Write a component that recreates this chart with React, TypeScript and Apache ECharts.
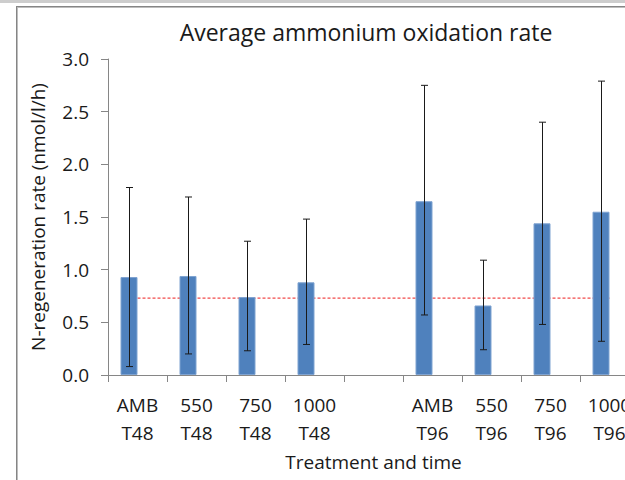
import React, { useEffect, useRef } from "react";
import * as echarts from "echarts";

// categories along the x axis (the 5th slot is an empty spacer)
const categories = [
  "AMB\nT48",
  "550\nT48",
  "750\nT48",
  "1000\nT48",
  "",
  "AMB\nT96",
  "550\nT96",
  "750\nT96",
  "1000\nT96",
];

// mean rates and the ends of the error bars (nmol/l/h)
const meanRates = [0.93, 0.94, 0.74, 0.88, null, 1.65, 0.66, 1.44, 1.55];
const errLow = [0.08, 0.2, 0.23, 0.29, null, 0.57, 0.24, 0.48, 0.32];
const errHigh = [1.78, 1.69, 1.27, 1.48, null, 2.75, 1.09, 2.4, 2.79];

// dotted red reference level
const refRate = 0.73;

const yMin = 0;
const yMax = 3;
const yStep = 0.5;

const BAR_W = 17;
const FONT = "'Open Sans', sans-serif";
const TEXT = "#1a1a1a";
const AXIS = "#868686";

const App: React.FC = () => {
  const chartRef = useRef<HTMLDivElement>(null);

  useEffect(() => {
    if (!chartRef.current) return;
    const chart = echarts.init(chartRef.current, undefined, { renderer: "svg" });

    const errData = errHigh
      .map((h, i) => (h == null ? null : [i, errLow[i], h]))
      .filter((d) => d !== null);

    const option: echarts.EChartsOption = {
      animation: false,
      textStyle: { fontFamily: FONT, color: TEXT },
      title: {
        text: "Average ammonium oxidation rate",
        left: 361,
        top: 15,
        textAlign: "center",
        textStyle: { fontFamily: FONT, fontSize: 23, fontWeight: "normal", color: TEXT },
      },
      grid: { left: 108, top: 59, width: 531, height: 316 },
      xAxis: {
        type: "category",
        data: categories,
        name: "Treatment and time",
        nameLocation: "middle",
        nameGap: 77,
        nameTextStyle: { fontSize: 19, color: TEXT, fontFamily: FONT },
        axisLine: { lineStyle: { color: AXIS, width: 1 } },
        axisTick: { show: true, length: 7, lineStyle: { color: AXIS } },
        axisLabel: {
          interval: 0,
          fontSize: 19,
          lineHeight: 28,
          margin: 16,
          color: TEXT,
          fontFamily: FONT,
        },
        splitLine: { show: false },
      },
      yAxis: {
        type: "value",
        min: yMin,
        max: yMax,
        interval: yStep,
        name: "N-regeneration rate (nmol/l/h)",
        nameLocation: "middle",
        nameGap: 61,
        nameTextStyle: { fontSize: 19, color: TEXT, fontFamily: FONT },
        axisLine: { show: true, lineStyle: { color: AXIS, width: 1 } },
        axisTick: { show: true, length: 7, lineStyle: { color: AXIS } },
        axisLabel: {
          fontSize: 19,
          margin: 19,
          color: TEXT,
          fontFamily: FONT,
          formatter: (v: number) => v.toFixed(1),
        },
        splitLine: { show: false },
      },
      series: [
        {
          type: "line",
          z: 1,
          data: categories.map(() => refRate),
          symbol: "none",
          lineStyle: { color: "#f24a4a", width: 1.2, type: [3, 2] },
          silent: true,
        },
        {
          type: "bar",
          z: 2,
          data: meanRates,
          barWidth: BAR_W,
          barGap: "0%",
          itemStyle: { color: "#4f81bd", borderColor: "#7fa3d1", borderWidth: 1 },
        },
        {
          // empty companion series (keeps the bars in the left half of each slot)
          type: "bar",
          z: 2,
          data: categories.map(() => null),
          barWidth: BAR_W,
          barGap: "0%",
        },
        {
          type: "custom",
          z: 3,
          data: errData as number[][],
          encode: { x: 0, y: [1, 2] },
          renderItem: (params: any, api: any) => {
            const idx = api.value(0);
            const lo = api.coord([idx, api.value(1)]);
            const hi = api.coord([idx, api.value(2)]);
            const x = Math.round(lo[0] - BAR_W / 2) + 0.5;
            const style = { stroke: "#1a1a1a", lineWidth: 1 };
            return {
              type: "group",
              children: [
                { type: "line", shape: { x1: x, y1: hi[1], x2: x, y2: lo[1] }, style },
                { type: "line", shape: { x1: x - 3.5, y1: hi[1], x2: x + 3.5, y2: hi[1] }, style },
                { type: "line", shape: { x1: x - 3.5, y1: lo[1], x2: x + 3.5, y2: lo[1] }, style },
              ],
            };
          },
        },
      ],
    };

    chart.setOption(option);
    return () => chart.dispose();
  }, []);

  return (
    <div
      style={{
        position: "fixed",
        left: 0,
        top: 0,
        width: 625,
        height: 480,
        overflow: "hidden",
        background: "#fff",
      }}
    >
      <div style={{ position: "absolute", left: 0, top: 0, width: 625, height: 3, background: "#cdcdcd" }} />
      <div
        style={{
          position: "absolute",
          left: 16,
          top: 6,
          width: 700,
          height: 600,
          borderLeft: "1px solid #858585",
          borderTop: "1px solid #858585",
          boxShadow: "inset 1px 1px 0 #bdbdbd",
        }}
      />
      <div ref={chartRef} style={{ position: "absolute", left: 0, top: 0, width: 660, height: 480 }} />
    </div>
  );
};

export default App;
